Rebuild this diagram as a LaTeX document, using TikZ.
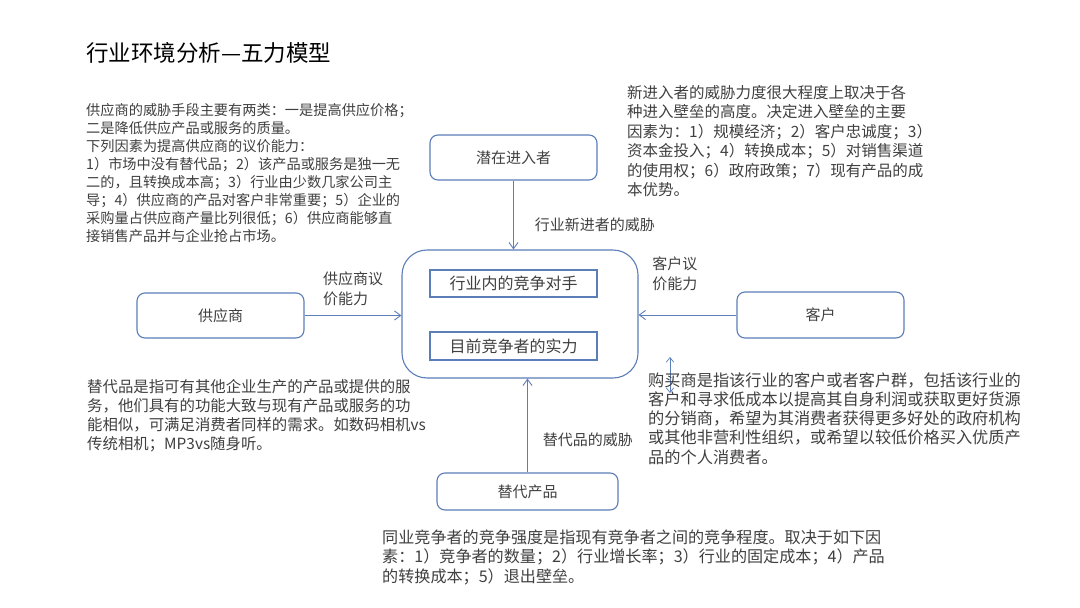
\documentclass[tikz,border=0pt]{standalone}
\usepackage{fontspec}
\setmainfont{Noto Sans CJK SC}
\usetikzlibrary{arrows.meta,positioning}
\definecolor{boxblue}{HTML}{5B7DB8}
\definecolor{textgray}{HTML}{404040}

\begin{document}
\begin{tikzpicture}[
    x=1pt,
    y=-1pt,
    force/.style={
        draw=boxblue,
        line width=1.1pt,
        rounded corners=8pt,
        align=center,
        minimum width=167pt,
        minimum height=45pt,
        fill=white,
        text=textgray,
        font=\fontsize{15}{18}\selectfont
    },
    rival/.style={
        draw=boxblue,
        line width=1.1pt,
        align=center,
        minimum width=167pt,
        minimum height=27pt,
        text=textgray,
        font=\fontsize{16}{18}\selectfont
    },
    note/.style={
        anchor=base west,
        align=left,
        inner sep=0pt,
        text=textgray
    },
    arrow/.style={
        -{Straight Barb[length=2.2mm,width=3.2mm]},
        line width=0.9pt,
        color=boxblue
    },
    flabel/.style={
        align=left,
        inner sep=0pt,
        text=textgray,
        font=\fontsize{15}{20}\selectfont
    }
]
\fill[white] (0,0) rectangle (1080,608);
\useasboundingbox (0,0) rectangle (1080,608);

% Title
\node[note, text=black, font=\fontsize{22.5}{24}\selectfont] (title) at (86,61)
{行业环境分析—五力模型};

% Central box with the two rivals
\node[draw=boxblue, line width=1.1pt, rounded corners=25pt,
      minimum width=236pt, minimum height=128pt] (industry) at (520,314) {};

\node[rival] (rivals) at (513.5,283.5) {行业内的竞争对手};
\node[rival, minimum height=28pt] (strength) at (513.5,346) {目前竞争者的实力};

% Forces
\node[force] (entrant) at (513.5,157.5) {潜在进入者};
\node[force] (supplier) at (220.5,315.5) {供应商};
\node[force, minimum height=46pt] (customer) at (820.5,315) {客户};
\node[force, minimum width=181pt, minimum height=37pt] (substitute) at (527.5,491.5)
{替代产品};

% Connections
\draw[arrow] (entrant.south) -- node[flabel, pos=0.64, anchor=west, xshift=21pt]
{行业新进者的威胁}
(entrant.south |- industry.north);

\draw[arrow] (supplier.east) -- node[flabel, midway, above=9pt]
{供应商议\\价能力}
(supplier.east -| industry.west);

\draw[arrow] (customer.west) -- node[flabel, pos=0.63, above=24pt]
{客户议\\价能力}
(customer.west -| industry.east);

\draw[arrow] (substitute.north) -- node[flabel, pos=0.35, anchor=west, xshift=15pt]
{替代品的威胁}
(substitute.north |- industry.south);

\coordinate (tipup) at (670,357);
\coordinate (tipdown) at (670,393);
\draw[boxblue, line width=0.7pt, {Straight Barb[length=1.6mm,width=2.6mm]}-{Straight Barb[length=1.6mm,width=2.6mm]}]
(tipup) -- (tipdown);

% Explanations (anchored at the baseline of the last line)
\node[note, font=\fontsize{14.2}{18}\selectfont] (suppliernote) at (86,241.3)
{供应商的威胁手段主要有两类：一是提高供应价格；\\
二是降低供应产品或服务的质量。\\
下列因素为提高供应商的议价能力：\\
1）市场中没有替代品；2）该产品或服务是独一无\\
二的，且转换成本高；3）行业由少数几家公司主\\
导；4）供应商的产品对客户非常重要；5）企业的\\
采购量占供应商产量比列很低；6）供应商能够直\\
接销售产品并与企业抢占市场。};

\node[note, font=\fontsize{15.5}{19.5}\selectfont] (entrantnote) at (627,195.5)
{新进入者的威胁力度很大程度上取决于各\\
种进入壁垒的高度。决定进入壁垒的主要\\
因素为：1）规模经济；2）客户忠诚度；3）\\
资本金投入；4）转换成本；5）对销售渠道\\
的使用权；6）政府政策；7）现有产品的成\\
本优势。};

\node[note, font=\fontsize{16.2}{19.3}\selectfont] (customernote) at (648,463.2)
{购买商是指该行业的客户或者客户群，包括该行业的\\
客户和寻求低成本以提高其自身利润或获取更好货源\\
的分销商，希望为其消费者获得更多好处的政府机构\\
或其他非营利性组织，或希望以较低价格买入优质产\\
品的个人消费者。};

\node[note, font=\fontsize{15.4}{19}\selectfont] (substitutenote) at (87,449)
{替代品是指可有其他企业生产的产品或提供的服\\
务，他们具有的功能大致与现有产品或服务的功\\
能相似，可满足消费者同样的需求。如数码相机vs\\
传统相机；MP3vs随身听。};

\node[note, font=\fontsize{16.1}{19.5}\selectfont] (rivalnote) at (382,582)
{同业竞争者的竞争强度是指现有竞争者之间的竞争程度。取决于如下因\\
素：1）竞争者的数量；2）行业增长率；3）行业的固定成本；4）产品\\
的转换成本；5）退出壁垒。};

\end{tikzpicture}
\end{document}
